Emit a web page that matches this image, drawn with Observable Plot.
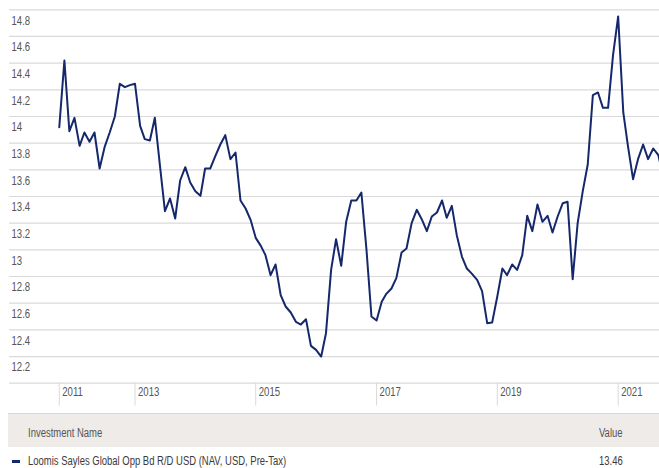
<!DOCTYPE html>
<html>
<head>
<meta charset="utf-8">
<script src="https://cdn.jsdelivr.net/npm/d3@7"></script>
<script src="https://cdn.jsdelivr.net/npm/@observablehq/plot@0.6"></script>
<style>
  html, body { margin: 0; padding: 0; background: #fff; }
  body { width: 659px; height: 468px; overflow: hidden; font-family: "Liberation Sans", Arial, sans-serif; }
  #chart svg { display: block; }
  .hdr { position: absolute; left: 8px; top: 413px; width: 651px; height: 34px; background: #eeebe8; border-top: 1px solid #d8d8d8; box-sizing: border-box; font-size: 12px; color: #555; }
  .row { position: absolute; left: 8px; top: 447px; width: 651px; height: 26px; font-size: 12px; color: #3a3a3a; }
  .hdr span, .row span.t { position: absolute; top: 0; display: inline-block; transform: scaleX(0.79); transform-origin: 0 50%; white-space: nowrap; }
  .hdr span { line-height: 38px; }
  .row span.t { line-height: 28px; }
  .name { left: 20px; }
  .val { left: 591px; }
  .row .swatch { position: absolute; left: 4px; top: 13px; width: 8px; height: 3px; background: #14286b; }
</style>
</head>
<body>
<div id="chart"></div>
<div class="hdr"><span class="name" id="hName"></span><span class="val" id="hVal"></span></div>
<div class="row"><span class="swatch"></span><span class="t name" id="rName"></span><span class="t val" id="rVal"></span></div>
<script>
// ---- data ----
const seriesName = "Loomis Sayles Global Opp Bd R/D USD (NAV, USD, Pre-Tax)";
const startYear = 2011, startMonth = 9; // October 2011 (0-based month)
const values = [
  13.92, 14.42, 13.89, 13.99, 13.78, 13.88, 13.81, 13.88, 13.61, 13.77,
  13.88, 14.00, 14.245, 14.22, 14.235, 14.245, 13.93, 13.83, 13.82, 13.99,
  13.63, 13.29, 13.385, 13.235, 13.52, 13.62, 13.505, 13.44, 13.405, 13.61,
  13.61, 13.70, 13.79, 13.86, 13.68, 13.73, 13.37, 13.31, 13.225, 13.09,
  13.03, 12.96, 12.81, 12.89, 12.66, 12.575, 12.53, 12.46, 12.44, 12.48,
  12.28, 12.25, 12.20, 12.375, 12.85, 13.08, 12.88, 13.21, 13.37, 13.37,
  13.43, 13.00, 12.50, 12.47, 12.61, 12.67, 12.71, 12.79, 12.98, 13.01,
  13.20, 13.30, 13.23, 13.14, 13.25, 13.28, 13.37, 13.24, 13.33, 13.11,
  12.95, 12.86, 12.82, 12.775, 12.69, 12.45, 12.455, 12.65, 12.86, 12.81,
  12.89, 12.85, 12.96, 13.255, 13.14, 13.34, 13.21, 13.255, 13.13, 13.25,
  13.35, 13.36, 12.78, 13.20, 13.44, 13.64, 14.16, 14.18, 14.065, 14.065,
  14.46, 14.75, 14.03, 13.78, 13.53, 13.68, 13.79, 13.68, 13.76, 13.71,
  13.55
];
const yTickValues = [14.8, 14.6, 14.4, 14.2, 14, 13.8, 13.6, 13.4, 13.2, 13, 12.8, 12.6, 12.4, 12.2];
const yTickLabels = ["14.8", "14.6", "14.4", "14.2", "14", "13.8", "13.6", "13.4", "13.2", "13", "12.8", "12.6", "12.4", "12.2"];
const yGridValues = [14.8, 14.6, 14.4, 14.2, 14, 13.8, 13.6, 13.4, 13.2, 13, 12.8, 12.6, 12.4, 12.2, 12.0];
const yDomain = [12.0, 14.8];
const xTickDates = [Date.UTC(2011, 9, 1), Date.UTC(2013, 0, 1), Date.UTC(2015, 0, 1), Date.UTC(2017, 0, 1), Date.UTC(2019, 0, 1), Date.UTC(2021, 0, 1)];
const xTickLabels = ["2011", "2013", "2015", "2017", "2019", "2021"];
const xDomain = [Date.UTC(2010, 11, 4), Date.UTC(2021, 8, 8)];
const tableHeader = ["Investment Name", "Value"];
const latestValue = "13.46";

// ---- build ----
const data = values.map((v, i) => ({date: new Date(Date.UTC(startYear, startMonth + i, 1)), value: v}));
const yTicks = yTickValues.map((v, i) => ({v, label: yTickLabels[i]}));
const xTicks = xTickDates.map((d, i) => ({date: new Date(d), label: xTickLabels[i]}));

const font = '"Liberation Sans", Arial, sans-serif';
const chart = Plot.plot({
  width: 659,
  height: 410,
  marginLeft: 9,
  marginRight: 0,
  marginTop: 9.3,
  marginBottom: 27.3,
  style: {fontFamily: font, fontSize: "12px", color: "#555", background: "#fff"},
  x: {type: "utc", domain: xDomain.map(d => new Date(d)), axis: null},
  y: {domain: yDomain, axis: null},
  marks: [
    Plot.ruleY(yGridValues, {stroke: "#dadada", strokeWidth: 1.2}),
    Plot.axisX(xTicks.map(d => d.date), {tickSize: 23, stroke: "#dadada", strokeOpacity: 1, tickFormat: () => "", tickPadding: 0}),
    Plot.text(yTicks, {y: "v", text: "label", frameAnchor: "left", dx: 2, dy: 11, textAnchor: "start", fill: "#555", className: "narrow"}),
    Plot.text(xTicks, {x: "date", text: "label", frameAnchor: "bottom", dx: 3, dy: 12.5, textAnchor: "start", fill: "#555", className: "narrow"}),
    Plot.line(data, {x: "date", y: "value", stroke: "#14286b", strokeWidth: 2, clip: true})
  ]
});
// imitate a narrow (condensed) face: scale glyphs horizontally about their anchor
chart.querySelectorAll("g.narrow text, .narrow text").forEach(t => {
  const tr = t.getAttribute("transform") || "";
  t.setAttribute("transform", tr + " scale(0.8,1)");
});
document.getElementById("chart").appendChild(chart);
document.getElementById("hName").textContent = tableHeader[0];
document.getElementById("hVal").textContent = tableHeader[1];
document.getElementById("rName").textContent = seriesName;
document.getElementById("rVal").textContent = latestValue;
</script>
</body>
</html>
